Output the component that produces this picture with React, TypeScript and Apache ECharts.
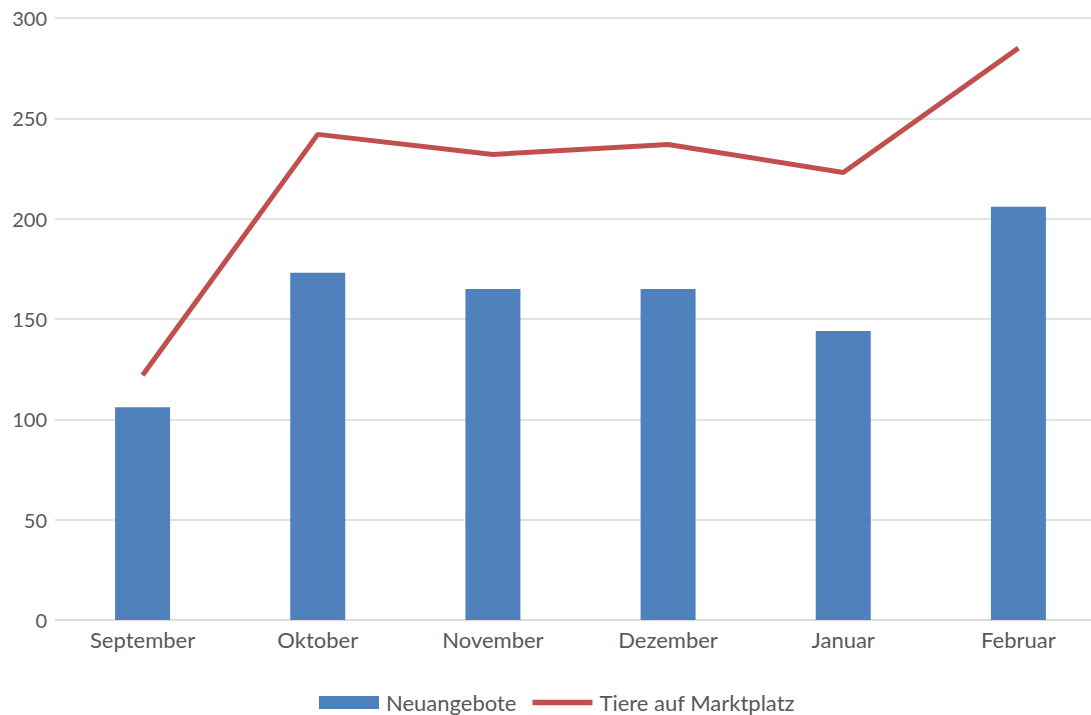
import React, { useEffect, useRef } from "react";
import * as echarts from "echarts";

const categories = ["September", "Oktober", "November", "Dezember", "Januar", "Februar"];
const neuangebote = [106, 173, 165, 165, 144, 206];
const tiere = [122, 242, 232, 237, 223, 285];
const yTicks = { min: 0, max: 300, interval: 50 };

export default function App() {
  const ref = useRef<HTMLDivElement>(null);
  useEffect(() => {
    const chart = echarts.init(ref.current!, null, { renderer: "svg" });
    const font = "Lato, 'Open Sans', sans-serif";
    chart.setOption({
      animation: false,
      textStyle: { fontFamily: font },
      grid: { left: 55, top: 18, right: 0, height: 602, containLabel: false },
      legend: {
        top: 689,
        left: 319,
        padding: 0,
        itemWidth: 60,
        itemHeight: 13,
        itemGap: 16,
        textStyle: { fontFamily: font, fontSize: 22, color: "#595959", padding: [0, 0, 0, 2], lineHeight: 27 },
        data: [
          { name: "Neuangebote", icon: "rect" },
          { name: "Tiere auf Marktplatz", icon: "path://M0,0 H60 V5.5 H0 Z" },
        ],
      },
      xAxis: {
        type: "category",
        data: categories,
        axisTick: { show: false },
        axisLine: { lineStyle: { color: "#D9D9D9", width: 1.5 } },
        axisLabel: { color: "#595959", fontSize: 22, margin: 8, fontFamily: font },
      },
      yAxis: {
        type: "value",
        min: yTicks.min,
        max: yTicks.max,
        interval: yTicks.interval,
        axisLine: { show: false },
        axisTick: { show: false },
        splitLine: { lineStyle: { color: "#D9D9D9", width: 1.5 } },
        axisLabel: { color: "#595959", fontSize: 20, margin: 8, fontFamily: font },
      },
      series: [
        {
          name: "Neuangebote",
          type: "bar",
          data: neuangebote,
          barWidth: 55,
          itemStyle: { color: "#4F81BD" },
        },
        {
          name: "Tiere auf Marktplatz",
          type: "line",
          data: tiere,
          symbol: "none",
          lineStyle: { color: "#C0504D", width: 5 },
          itemStyle: { color: "#C0504D" },
        },
      ],
    });
    return () => chart.dispose();
  }, []);
  return (
    <div style={{ position: "fixed", left: 0, top: 0, width: 1091, height: 715, overflow: "hidden", background: "#fff" }}>
      <div ref={ref} style={{ width: 1106, height: 715 }} />
    </div>
  );
}
